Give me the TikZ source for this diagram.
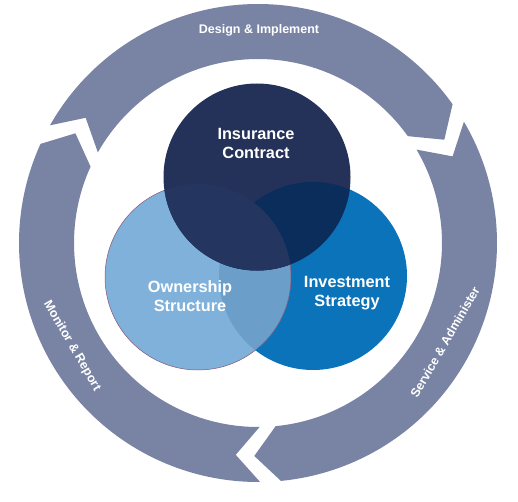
\documentclass[tikz,border=0pt]{standalone}
\usepackage{fontspec}
\setmainfont{Liberation Sans}
\usepackage{tikz}
\usetikzlibrary{calc}

\definecolor{ringblue}{RGB}{121,132,164}
\definecolor{contractnavy}{RGB}{36,50,89}
\definecolor{ownerblue}{RGB}{128,177,218}
\definecolor{investblue}{RGB}{10,115,186}
\definecolor{ownerinvest}{RGB}{107,159,201}
\definecolor{contractowner}{RGB}{36,54,96}
\definecolor{contractinvest}{RGB}{11,45,92}
\definecolor{ownerrim}{RGB}{135,85,115}

\begin{document}
\begin{tikzpicture}[x = 1pt, y = 1pt,
    ringlabel/.style = {text = white, font = \bfseries\fontsize{12.5}{14}\selectfont},
    venntext/.style = {text = white, align = center, font = \bfseries\fontsize{16.3}{19}\selectfont}]
    \useasboundingbox (0, 0) rectangle (518, 501);
    \def\rout{239} \def\rin{184} \def\rmid{213} \def\tipang{6.5}
    \coordinate (c) at (258, 258);

    %%%%%%%%%% ring of arrows %%%%%%%%%%%%%%%%%%%
    \foreach \t/\e in {150.5/35.5, 30.5/-84.5, -89.5/-204.5} {
        \fill [ringblue] ($(c) + (\t:\rout)$) arc [start angle = \t, end angle = \e, radius = \rout]
            --  ($(c) + ({\e - \tipang}:\rmid)$)  --  ($(c) + (\e:\rin)$)
            arc [start angle = \e, end angle = \t, radius = \rin]
            --  ($(c) + ({\t - \tipang}:\rmid)$)  --  cycle;
        }

    \node [ringlabel] (design) at (259, 470.5) {Design \& Implement};
    \node [ringlabel, rotate = 60] (service) at (445, 159) {Service \& Administer};
    \node [ringlabel, rotate = -60] (monitor) at (72, 155) {Monitor \& Report};

    %%%%%%%%%% three circles %%%%%%%%%%%%%%%%%%%
    \coordinate (contract) at (257, 324);
    \coordinate (owner) at (198, 224);
    \coordinate (invest) at (313, 225);

    \fill [investblue] (invest) circle (94);
    \fill [ownerblue] (owner) circle (93);
    \begin{scope}
        \clip (owner) circle (93);
        \fill [ownerinvest] (invest) circle (94);
    \end{scope}
    \draw [ownerrim, line width = .5pt] (owner) circle (93);

    \fill [contractnavy] (contract) circle (93.5);
    \begin{scope}
        \clip (contract) circle (93.5);
        \fill [contractinvest] (invest) circle (94);
        \fill [contractowner] (owner) circle (93);
    \end{scope}

    \node [venntext] (contracttext) at (256, 358) {Insurance\\Contract};
    \node [venntext] (ownertext) at (190, 205) {Ownership\\Structure};
    \node [venntext] (investtext) at (347, 208) {Investment\\Strategy};

\end{tikzpicture}
\end{document}
